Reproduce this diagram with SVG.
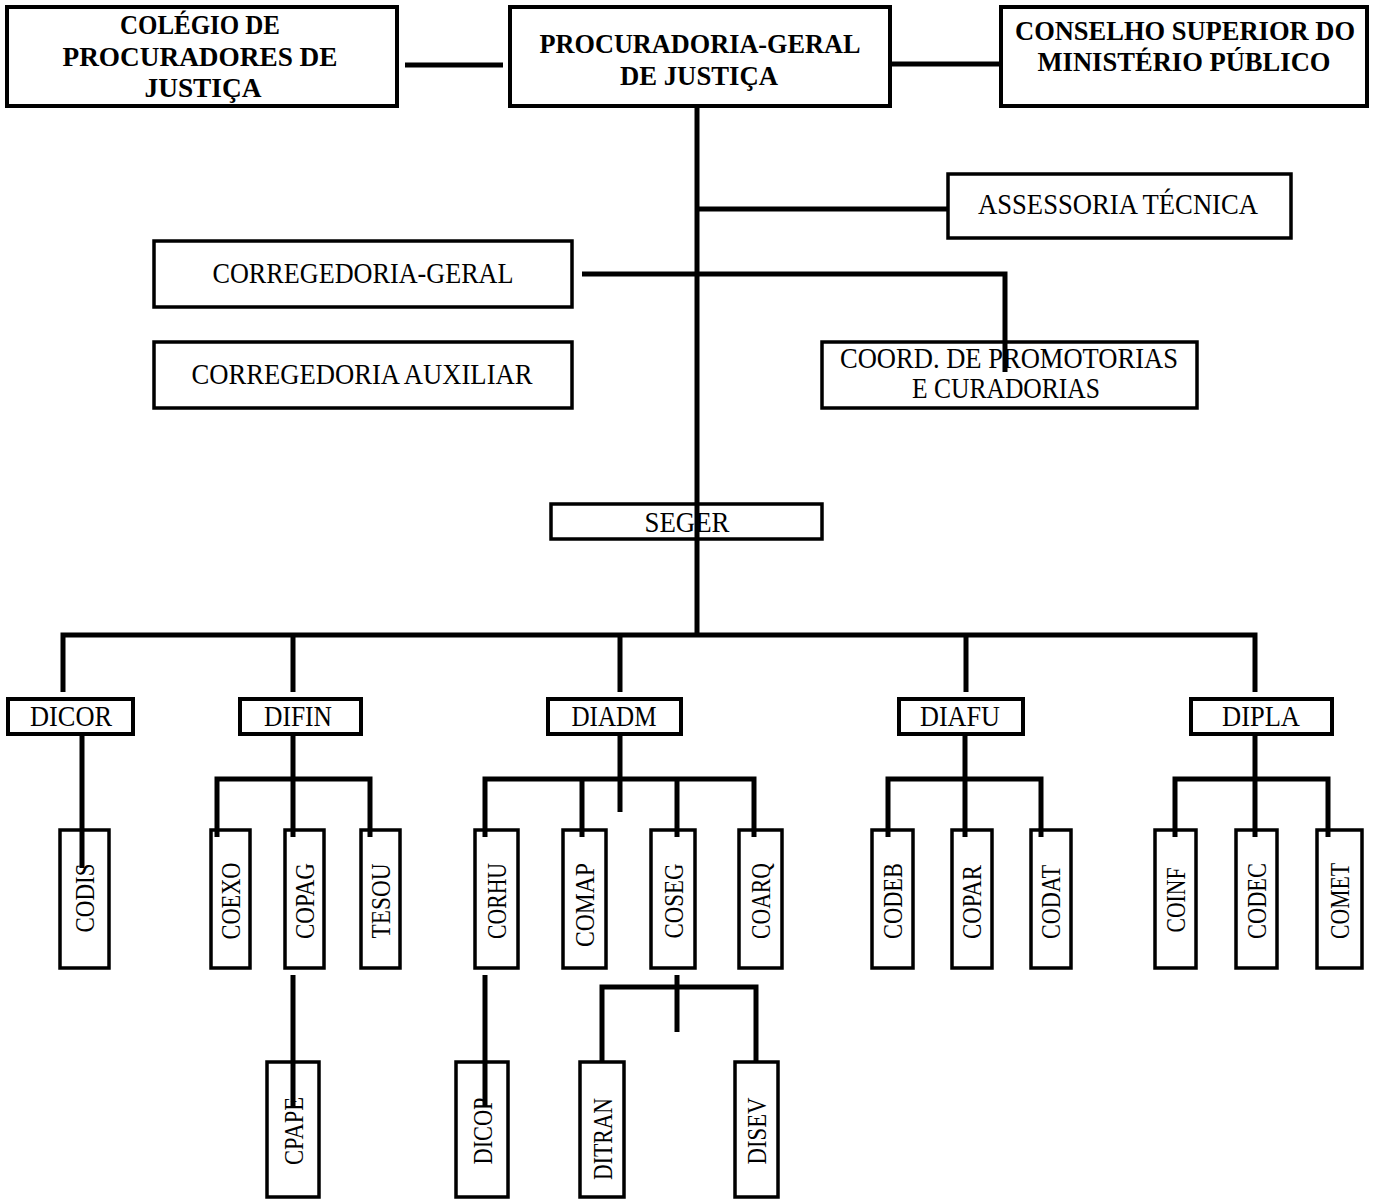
<svg xmlns="http://www.w3.org/2000/svg" width="1377" height="1201" viewBox="0 0 1377 1201">
<style>
.box{fill:#fff;stroke:#000;stroke-width:4}
.sbox{fill:#fff;stroke:#000;stroke-width:3.5}
.b{font-family:"Liberation Serif",serif;font-weight:bold;font-size:28px;fill:#000;text-anchor:middle}
.r{font-family:"Liberation Serif",serif;font-size:30px;fill:#000;text-anchor:middle}
.v{font-family:"Liberation Serif",serif;font-size:27px;fill:#000;text-anchor:middle}
.c{fill:none;stroke:#000;stroke-width:5;stroke-linejoin:miter;stroke-linecap:butt}
</style>
<rect width="1377" height="1201" fill="#fff"/>
<g id="colegio"><rect class="box" x="7" y="7" width="390" height="99"/>
<text class="b" x="200" y="34" textLength="160" lengthAdjust="spacingAndGlyphs">COLÉGIO DE</text>
<text class="b" x="200" y="66" textLength="275" lengthAdjust="spacingAndGlyphs">PROCURADORES DE</text>
<text class="b" x="203" y="97" textLength="117" lengthAdjust="spacingAndGlyphs">JUSTIÇA</text></g>
<g id="procuradoria"><rect class="box" x="510" y="7" width="380" height="99"/>
<text class="b" x="700" y="53" textLength="321" lengthAdjust="spacingAndGlyphs">PROCURADORIA-GERAL</text>
<text class="b" x="699" y="85" textLength="158" lengthAdjust="spacingAndGlyphs">DE JUSTIÇA</text></g>
<g id="conselho"><rect class="box" x="1001" y="7" width="366" height="99"/>
<text class="b" x="1185" y="40" textLength="340" lengthAdjust="spacingAndGlyphs">CONSELHO SUPERIOR DO</text>
<text class="b" x="1184" y="71" textLength="293" lengthAdjust="spacingAndGlyphs">MINISTÉRIO PÚBLICO</text></g>
<g id="assessoria"><rect class="sbox" x="948" y="174" width="343" height="64"/>
<text class="r" x="1118" y="214" textLength="280" lengthAdjust="spacingAndGlyphs">ASSESSORIA TÉCNICA</text></g>
<g id="corregedoria-geral"><rect class="sbox" x="154" y="241" width="418" height="66"/>
<text class="r" x="363" y="283" textLength="301" lengthAdjust="spacingAndGlyphs">CORREGEDORIA-GERAL</text></g>
<g id="corregedoria-auxiliar"><rect class="sbox" x="154" y="342" width="418" height="66"/>
<text class="r" x="362" y="384" textLength="341" lengthAdjust="spacingAndGlyphs">CORREGEDORIA AUXILIAR</text></g>
<g id="coord"><rect class="sbox" x="822" y="342" width="375" height="66"/>
<text class="r" x="1009" y="368" textLength="338" lengthAdjust="spacingAndGlyphs">COORD. DE PROMOTORIAS</text>
<text class="r" x="1006" y="398" textLength="188" lengthAdjust="spacingAndGlyphs">E CURADORIAS</text></g>
<g id="seger"><rect class="sbox" x="551" y="504" width="271" height="35"/>
<text class="r" x="687" y="532" textLength="85" lengthAdjust="spacingAndGlyphs">SEGER</text></g>
<g id="dicor"><rect class="box" x="8" y="699" width="125" height="35"/>
<text class="r" x="71" y="726" textLength="82" lengthAdjust="spacingAndGlyphs">DICOR</text></g>
<g id="difin"><rect class="box" x="240" y="699" width="121" height="35"/>
<text class="r" x="298" y="726" textLength="68" lengthAdjust="spacingAndGlyphs">DIFIN</text></g>
<g id="diadm"><rect class="box" x="548" y="699" width="133" height="35"/>
<text class="r" x="614" y="726" textLength="85" lengthAdjust="spacingAndGlyphs">DIADM</text></g>
<g id="diafu"><rect class="box" x="899" y="699" width="124" height="35"/>
<text class="r" x="960" y="726" textLength="80" lengthAdjust="spacingAndGlyphs">DIAFU</text></g>
<g id="dipla"><rect class="box" x="1191" y="699" width="141" height="35"/>
<text class="r" x="1261" y="726" textLength="78" lengthAdjust="spacingAndGlyphs">DIPLA</text></g>
<g id="codis"><rect class="sbox" x="60" y="830" width="49" height="138"/>
<text class="v" transform="translate(94,898) rotate(-90)" textLength="69" lengthAdjust="spacingAndGlyphs">CODIS</text></g>
<g id="coexo"><rect class="sbox" x="211" y="830" width="39" height="138"/>
<text class="v" transform="translate(240,901) rotate(-90)" textLength="77" lengthAdjust="spacingAndGlyphs">COEXO</text></g>
<g id="copag"><rect class="sbox" x="285" y="830" width="39" height="138"/>
<text class="v" transform="translate(314,901) rotate(-90)" textLength="76" lengthAdjust="spacingAndGlyphs">COPAG</text></g>
<g id="tesou"><rect class="sbox" x="361" y="830" width="39" height="138"/>
<text class="v" transform="translate(390,901) rotate(-90)" textLength="75" lengthAdjust="spacingAndGlyphs">TESOU</text></g>
<g id="corhu"><rect class="sbox" x="475" y="830" width="43" height="138"/>
<text class="v" transform="translate(506,901) rotate(-90)" textLength="76" lengthAdjust="spacingAndGlyphs">CORHU</text></g>
<g id="comap"><rect class="sbox" x="563" y="830" width="43" height="138"/>
<text class="v" transform="translate(594,905) rotate(-90)" textLength="84" lengthAdjust="spacingAndGlyphs">COMAP</text></g>
<g id="coseg"><rect class="sbox" x="651" y="830" width="44" height="138"/>
<text class="v" transform="translate(683,901) rotate(-90)" textLength="75" lengthAdjust="spacingAndGlyphs">COSEG</text></g>
<g id="coarq"><rect class="sbox" x="739" y="830" width="43" height="138"/>
<text class="v" transform="translate(770,901) rotate(-90)" textLength="76" lengthAdjust="spacingAndGlyphs">COARQ</text></g>
<g id="codeb"><rect class="sbox" x="872" y="830" width="41" height="138"/>
<text class="v" transform="translate(902,901) rotate(-90)" textLength="76" lengthAdjust="spacingAndGlyphs">CODEB</text></g>
<g id="copar"><rect class="sbox" x="952" y="830" width="40" height="138"/>
<text class="v" transform="translate(981,902) rotate(-90)" textLength="74" lengthAdjust="spacingAndGlyphs">COPAR</text></g>
<g id="codat"><rect class="sbox" x="1031" y="830" width="40" height="138"/>
<text class="v" transform="translate(1060,902) rotate(-90)" textLength="74" lengthAdjust="spacingAndGlyphs">CODAT</text></g>
<g id="coinf"><rect class="sbox" x="1155" y="830" width="41" height="138"/>
<text class="v" transform="translate(1185,900) rotate(-90)" textLength="65" lengthAdjust="spacingAndGlyphs">COINF</text></g>
<g id="codec"><rect class="sbox" x="1236" y="830" width="41" height="138"/>
<text class="v" transform="translate(1266,901) rotate(-90)" textLength="76" lengthAdjust="spacingAndGlyphs">CODEC</text></g>
<g id="comet"><rect class="sbox" x="1317" y="830" width="45" height="138"/>
<text class="v" transform="translate(1349,901) rotate(-90)" textLength="76" lengthAdjust="spacingAndGlyphs">COMET</text></g>
<g id="cpape"><rect class="sbox" x="267" y="1062" width="52" height="135"/>
<text class="v" transform="translate(303,1131) rotate(-90)" textLength="68" lengthAdjust="spacingAndGlyphs">CPAPE</text></g>
<g id="dicop"><rect class="sbox" x="456" y="1062" width="52" height="135"/>
<text class="v" transform="translate(492,1131) rotate(-90)" textLength="67" lengthAdjust="spacingAndGlyphs">DICOP</text></g>
<g id="ditran"><rect class="sbox" x="580" y="1062" width="44" height="135"/>
<text class="v" transform="translate(612,1139) rotate(-90)" textLength="82" lengthAdjust="spacingAndGlyphs">DITRAN</text></g>
<g id="disev"><rect class="sbox" x="735" y="1062" width="43" height="135"/>
<text class="v" transform="translate(766,1131) rotate(-90)" textLength="67" lengthAdjust="spacingAndGlyphs">DISEV</text></g>
<g id="connectors" class="c">
<path class="c" d="M405 65H503"/>
<path class="c" d="M890 64H1001"/>
<path class="c" d="M697 106V635"/>
<path class="c" d="M697 209H947"/>
<path class="c" d="M582 274H1005V372"/>
<path class="c" d="M63 692V635H1255V692"/>
<path class="c" d="M293 635V692M620 635V692M966 635V692"/>
<path class="c" d="M82 734V868"/>
<path class="c" d="M293 734V837M217 837V779H370V837"/>
<path class="c" d="M293 975V1107"/>
<path class="c" d="M620 734V812M485 837V779H754V837M582 779V837M677 779V837"/>
<path class="c" d="M485 975V1107"/>
<path class="c" d="M677 975V1032M602 1063V987H756V1063"/>
<path class="c" d="M965 734V837M888 837V779H1041V837"/>
<path class="c" d="M1255 734V837M1175 837V779H1328V837"/>
</g>
</svg>
